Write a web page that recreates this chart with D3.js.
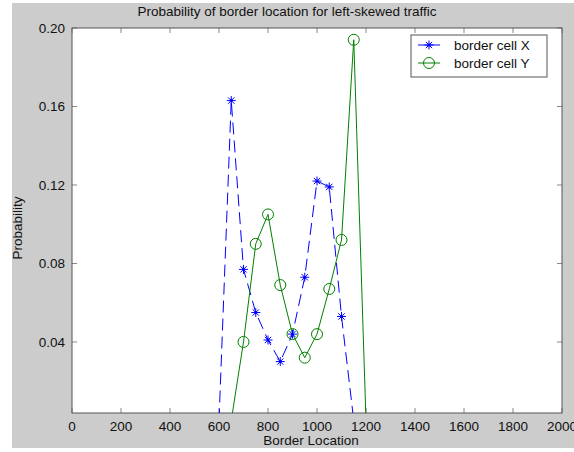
<!DOCTYPE html>
<html><head><meta charset="utf-8">
<script src="https://cdn.jsdelivr.net/npm/d3@7"></script>
<style>
html,body{margin:0;padding:0;background:#fff;}
svg{display:block;font-family:"Liberation Sans",Arial,Helvetica,sans-serif;}
</style></head><body>
<svg id="c" width="574" height="452"></svg>
<script>
const title = "Probability of border location for left-skewed traffic";
const xLabel = "Border Location";
const yLabel = "Probability";
const xTicks = [0,200,400,600,800,1000,1200,1400,1600,1800,2000];
const yTicks = [0.04,0.08,0.12,0.16,0.20];
const locX = [600,650,700,750,800,850,900,950,1000,1050,1100,1150];
const cellX = [0,0.163,0.077,0.055,0.041,0.030,0.044,0.073,0.122,0.119,0.053,0];
const locY = [650,700,750,800,850,900,950,1000,1050,1100,1150,1200];
const cellY = [0,0.040,0.090,0.105,0.069,0.044,0.032,0.044,0.067,0.092,0.194,0];
const seriesNames = ["border cell X","border cell Y"];

const svg = d3.select("#c");
const L=72, R=562, T=28, B=413;
svg.append("rect").attr("x",12).attr("y",3).attr("width",562).attr("height",445).attr("fill","#cccccc");
svg.append("rect").attr("x",L).attr("y",T).attr("width",R-L).attr("height",B-T).attr("fill","#fff");

const x = d3.scaleLinear().domain([0,2000]).range([L,R]);
const y = d3.scaleLinear().domain([0.0038,0.2]).range([B,T]);

svg.append("clipPath").attr("id","pc").append("rect")
  .attr("x",L).attr("y",T).attr("width",R-L).attr("height",B-T);

const g = svg.append("g");
const tk=5;
xTicks.forEach(v=>{
  g.append("line").attr("x1",x(v)).attr("x2",x(v)).attr("y1",B).attr("y2",B-tk).attr("stroke","#888");
  g.append("line").attr("x1",x(v)).attr("x2",x(v)).attr("y1",T).attr("y2",T+tk).attr("stroke","#888");
  g.append("text").attr("x",x(v)).attr("y",B+18).attr("text-anchor","middle").attr("font-size",13.5).attr("fill","#111").text(v);
});
yTicks.forEach(v=>{
  g.append("line").attr("y1",y(v)).attr("y2",y(v)).attr("x1",L).attr("x2",L+tk).attr("stroke","#888");
  g.append("line").attr("y1",y(v)).attr("y2",y(v)).attr("x1",R).attr("x2",R-tk).attr("stroke","#888");
  g.append("text").attr("x",L-7).attr("y",y(v)).attr("dy","0.35em").attr("text-anchor","end").attr("font-size",13.5).attr("fill","#111").text(d3.format(".2f")(v));
});
svg.append("rect").attr("x",L).attr("y",T).attr("width",R-L).attr("height",B-T).attr("fill","none").attr("stroke","#555").attr("stroke-width",1);

const data = d3.zip(locX,cellX), data2 = d3.zip(locY,cellY);
const line = d3.line().x(d=>x(d[0])).y(d=>y(d[1]));
const plot = svg.append("g").attr("clip-path","url(#pc)");
plot.append("path").attr("d",line(data)).attr("fill","none").attr("stroke","#0000ff").attr("stroke-width",1).attr("stroke-dasharray","12,6");
plot.append("path").attr("d",line(data2)).attr("fill","none").attr("stroke","#008000").attr("stroke-width",1);

function star(sel,cx,cy,s,col){
  const a=s, b=s*0.7;
  const gg=sel.append("g").attr("stroke",col).attr("stroke-width",1);
  gg.append("line").attr("x1",cx-a).attr("x2",cx+a).attr("y1",cy).attr("y2",cy);
  gg.append("line").attr("x1",cx).attr("x2",cx).attr("y1",cy-a).attr("y2",cy+a);
  gg.append("line").attr("x1",cx-b).attr("x2",cx+b).attr("y1",cy-b).attr("y2",cy+b);
  gg.append("line").attr("x1",cx-b).attr("x2",cx+b).attr("y1",cy+b).attr("y2",cy-b);
  gg.append("circle").attr("cx",cx).attr("cy",cy).attr("r",1.5).attr("fill",col).attr("stroke","none");
}
data.forEach(d=>star(plot,x(d[0]),y(d[1]),4.5,"#0000ff"));
data2.forEach(d=>plot.append("circle").attr("cx",x(d[0])).attr("cy",y(d[1])).attr("r",5.5).attr("fill","none").attr("stroke","#008000").attr("stroke-width",1));

svg.append("text").attr("x",287).attr("y",16).attr("text-anchor","middle").attr("font-size",13.5).attr("fill","#111").text(title);
svg.append("text").attr("x",311).attr("y",445).attr("text-anchor","middle").attr("font-size",13.5).attr("fill","#111").text(xLabel);
svg.append("text").attr("transform",`translate(22,228) rotate(-90)`).attr("text-anchor","middle").attr("font-size",13.5).attr("fill","#111").text(yLabel);

const lg = svg.append("g");
lg.append("rect").attr("x",411).attr("y",35).attr("width",136).attr("height",42).attr("fill","#fff").attr("stroke","#555");
[["#0000ff",45],["#008000",63]].forEach((c,i)=>{
  const ly=c[1];
  lg.append("line").attr("x1",418).attr("x2",440).attr("y1",ly).attr("y2",ly).attr("stroke",c[0]);
  if(i===0) star(lg,429,ly,4.5,c[0]); else lg.append("circle").attr("cx",429).attr("cy",ly).attr("r",5.5).attr("fill","none").attr("stroke",c[0]);
  lg.append("text").attr("x",454).attr("y",ly).attr("dy","0.35em").attr("font-size",13.5).attr("fill","#111").text(seriesNames[i]);
});
</script></body></html>
